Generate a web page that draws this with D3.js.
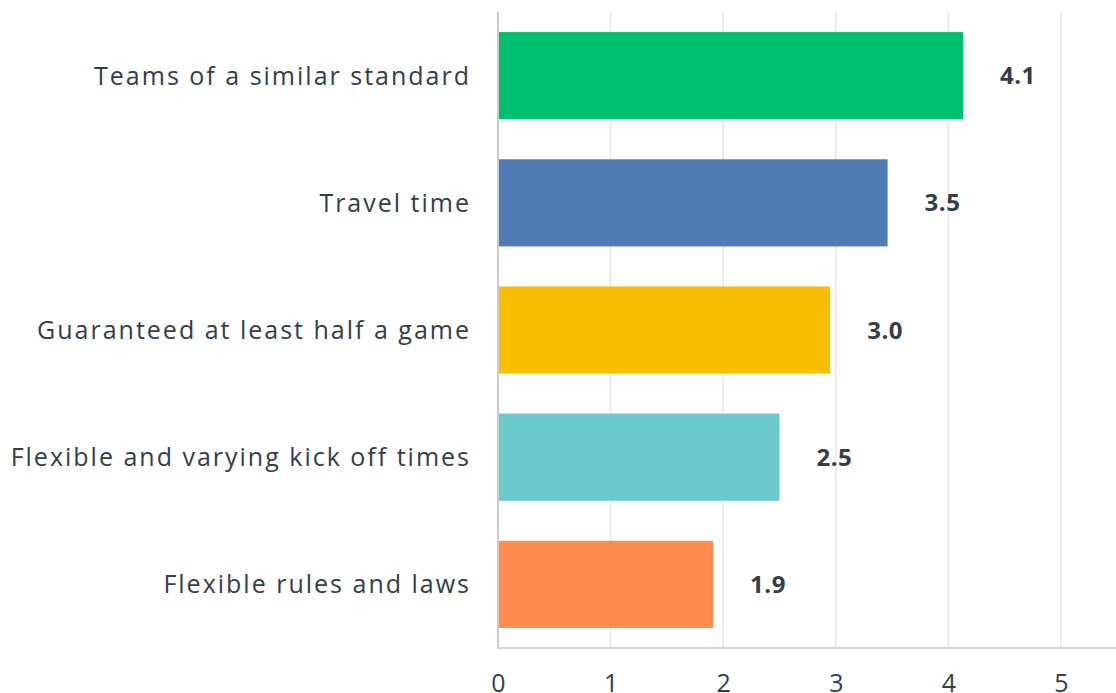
<!DOCTYPE html>
<html>
<head>
<meta charset="utf-8">
<script src="https://cdn.jsdelivr.net/npm/d3@7"></script>
<style>
  body { margin: 0; background: #fff; }
  .chart text { font-family: "Open Sans", sans-serif; fill: #333e48; }
  .axis path, .axis line { stroke: none; }
</style>
</head>
<body>
<div class="chart"></div>
<script>
// data
var categories = ["Teams of a similar standard", "Travel time", "Guaranteed at least half a game",
                  "Flexible and varying kick off times", "Flexible rules and laws"];
var values = [4.13, 3.46, 2.95, 2.50, 1.91];
var valueLabels = ["4.1", "3.5", "3.0", "2.5", "1.9"];
var colors = ["#00bf6f", "#507cb6", "#f9be00", "#6bc8cd", "#ff8b4f"];
var ticks = [0, 1, 2, 3, 4, 5];

var data = categories.map((c, i) => ({cat: c, value: values[i], label: valueLabels[i], color: colors[i]}));

var margin = ({top: 12, right: 0, bottom: 44, left: 498});
var width = 1116 - margin.left - margin.right,
    height = 693 - margin.top - margin.bottom;

var svg = d3.select(".chart").append("svg")
    .attr("width", 1116)
    .attr("height", 693)
    .append("g")
    .attr("transform", "translate(" + margin.left + "," + margin.top + ")");

const xScale = d3.scaleLinear()
    .domain([0, 5])
    .range([0, 563]);

const yScale = d3.scaleBand()
    .domain(categories)
    .range([0, height - 1])
    .paddingInner(0.315)
    .paddingOuter(0.158);

// gridlines
svg.selectAll(".grid")
    .data(ticks.slice(1))
    .enter().append("line")
    .attr("class", "grid")
    .attr("x1", d => xScale(d)).attr("x2", d => xScale(d))
    .attr("y1", 0).attr("y2", height - 1)
    .attr("stroke", "#ebebeb")
    .attr("stroke-width", 2);

// bars
svg.selectAll("rect.bar")
    .data(data)
    .enter().append("rect")
    .attr("class", "bar")
    .attr("x", 0)
    .attr("y", d => yScale(d.cat))
    .attr("width", d => xScale(d.value))
    .attr("height", yScale.bandwidth())
    .attr("fill", d => d.color);

// value labels
svg.selectAll("text.val")
    .data(data)
    .enter().append("text")
    .attr("class", "val")
    .attr("x", d => xScale(d.value) + 37)
    .attr("y", d => yScale(d.cat) + yScale.bandwidth() / 2)
    .attr("dy", "0.36em")
    .style("font-size", "24px")
    .style("font-weight", "bold")
    .style("letter-spacing", "0.5px")
    .text(d => d.label);

// axis lines
svg.append("line")
    .attr("x1", 0).attr("x2", 0)
    .attr("y1", 0).attr("y2", height)
    .attr("stroke", "#cccccc").attr("stroke-width", 2);
svg.append("line")
    .attr("x1", 0).attr("x2", width)
    .attr("y1", height - 1).attr("y2", height - 1)
    .attr("stroke", "#d5d5d5").attr("stroke-width", 2);

// category labels
svg.selectAll("text.cat")
    .data(data)
    .enter().append("text")
    .attr("class", "cat")
    .attr("x", -27)
    .attr("y", d => yScale(d.cat) + yScale.bandwidth() / 2)
    .attr("dy", "0.36em")
    .attr("text-anchor", "end")
    .style("font-size", "25px")
    .style("letter-spacing", "2px")
    .text(d => d.cat);

// x axis
const xAxis = d3.axisBottom(xScale).tickValues(ticks).tickFormat(d3.format("d")).tickSize(0).tickPadding(25);
svg.append("g")
    .attr("class", "axis x-axis")
    .attr("transform", `translate(0, ${height})`)
    .call(xAxis)
    .selectAll("text")
    .style("font-size", "25px");
</script>
</body>
</html>
